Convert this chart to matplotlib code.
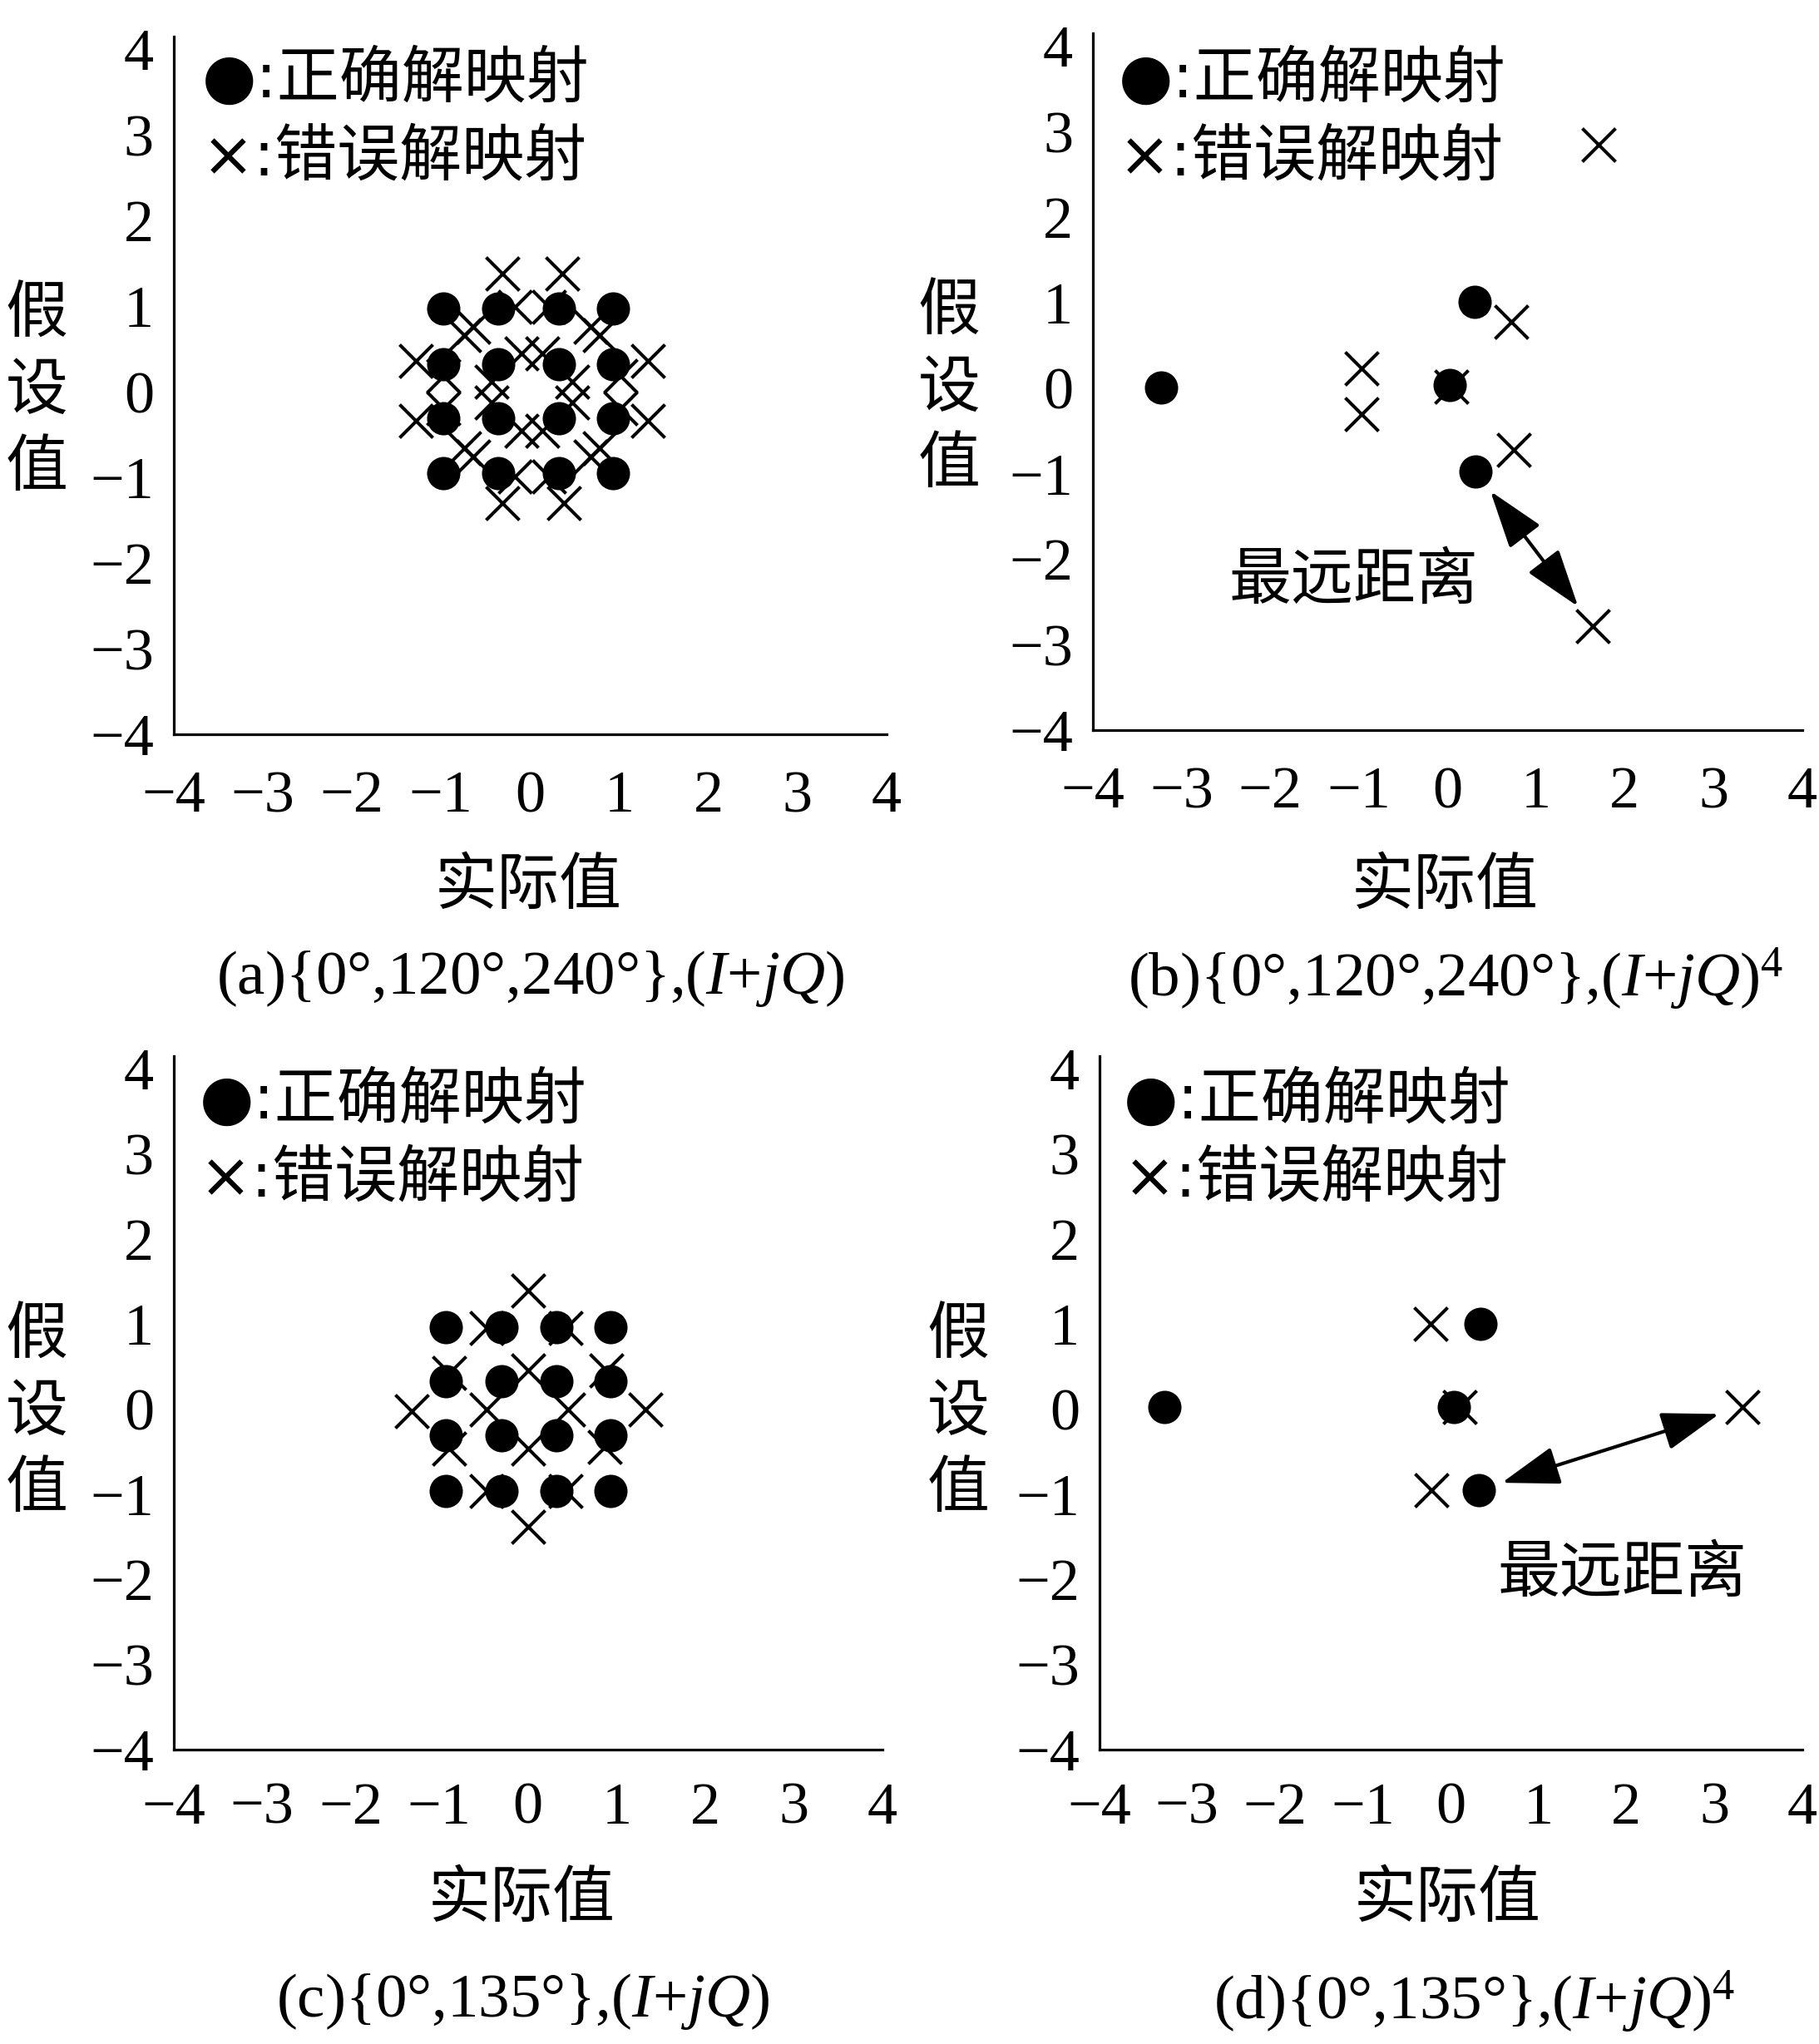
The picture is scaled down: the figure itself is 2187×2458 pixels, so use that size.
import matplotlib
matplotlib.use("Agg")
import matplotlib.pyplot as plt
from matplotlib.markers import MarkerStyle

plt.rcParams['mathtext.fontset'] = 'custom'
plt.rcParams['mathtext.rm'] = 'Liberation Serif'
plt.rcParams['mathtext.it'] = 'Liberation Serif:italic'
plt.rcParams['axes.unicode_minus'] = True

# ---------------- data ----------------
# (a) {0,120,240}, (I+jQ)
a_ok_x = [-0.97, -0.36, 0.32, 0.93, -0.97, -0.36, 0.32, 0.93,
          -0.97, -0.36, 0.32, 0.93, -0.97, -0.36, 0.32, 0.93]
a_ok_y = [0.97, 0.97, 0.97, 0.97, 0.32, 0.32, 0.32, 0.32,
          -0.31, -0.31, -0.31, -0.31, -0.95, -0.95, -0.95, -0.95]
a_err_x = [-1.28, -1.28, 1.32, 1.32, -0.31, 0.36, -0.31, 0.38,
           -0.74, -0.74, 0.78, 0.78, -0.64, 0.68, -0.64, 0.68,
           -0.17, 0.21, -0.17, 0.21, -0.97, -0.97, 1.01, 1.01,
           -0.43, -0.43, 0.47, 0.47, 0.14, -0.10, 0.14, -0.10]
a_err_y = [0.36, -0.34, 0.36, -0.34, 1.38, 1.38, -1.30, -1.30,
           0.66, -0.66, 0.66, -0.66, 0.76, 0.76, -0.76, -0.76,
           0.99, 0.99, -0.99, -0.99, 0.19, -0.19, 0.19, -0.19,
           0.12, -0.12, 0.12, -0.12, 0.45, 0.45, -0.45, -0.45]

# (b) {0,120,240}, (I+jQ)^4
b_ok_x = [-3.23, 0.31, 0.03, 0.32]
b_ok_y = [0.01, 1.01, 0.04, -0.98]
b_err_x = [1.71, 0.72, -0.97, -0.97, 0.75, 1.64, 0.05]
b_err_y = [2.85, 0.78, 0.23, -0.30, -0.72, -2.78, 0.02]

# (c) {0,135}, (I+jQ)
c_ok_x = [-0.93, -0.30, 0.32, 0.93, -0.93, -0.30, 0.32, 0.93,
          -0.93, -0.30, 0.32, 0.93, -0.93, -0.30, 0.32, 0.93]
c_ok_y = [0.96, 0.96, 0.96, 0.96, 0.33, 0.33, 0.33, 0.33,
          -0.31, -0.31, -0.31, -0.31, -0.96, -0.96, -0.96, -0.96]
c_err_x = [0.00, 0.00, -1.31, 1.33, -0.47, 0.42, -0.89, 0.88,
           0.00, -0.47, 0.45, 0.00, -0.89, 0.87, -0.47, 0.42]
c_err_y = [1.39, -1.38, -0.02, 0.00, 0.95, 0.95, 0.43, 0.46,
           0.46, 0.00, 0.00, -0.46, -0.46, -0.44, -0.96, -0.96]

# (d) {0,135}, (I+jQ)^4
d_ok_x = [-3.26, 0.04, 0.34, 0.32]
d_ok_y = [0.03, 0.03, 1.00, -0.95]
d_err_x = [-0.23, -0.22, 0.10, 3.32]
d_err_y = [1.00, -0.95, 0.03, 0.03]

# far-distance arrows: (correct point, wrong point)
b_arrow = [(0.32, -0.98), (1.64, -2.78)]
d_arrow = [(0.32, -0.95), (3.32, 0.03)]

ticks = [-4, -3, -2, -1, 0, 1, 2, 3, 4]
captions = ["(a){0°,120°,240°},($I$+$jQ$)",
            "(b){0°,120°,240°},($I$+$jQ$)$^4$",
            "(c){0°,135°},($I$+$jQ$)",
            "(d){0°,135°},($I$+$jQ$)$^4$"]
legend_ok = "●:正确解映射"
legend_err = "×:错误解映射"
xlabel = "实际值"
ylabel = "假\n设\n值"
far_label = "最远距离"

# ---------------- layout ----------------
W, H = 2187, 2458
fig = plt.figure(figsize=(W / 100, H / 100), dpi=100)
fig.patch.set_facecolor('white')

def fx(x):
    return x / W

def fy(y):
    return 1 - y / H

def make_axes(left, right, top, bottom):
    return fig.add_axes([fx(left), fy(bottom), fx(right) - fx(left), fy(top) - fy(bottom)])

panels = [
    dict(rect=(208.5, 1066, 44, 883), ok=(a_ok_x, a_ok_y), err=(a_err_x, a_err_y),
         leg=(243, 96), ylab=(44, 470), xlab=(635, 1065), cap=(637, 1177), xpad=31),
    dict(rect=(1313.7, 2166.6, 40, 878), ok=(b_ok_x, b_ok_y), err=(b_err_x, b_err_y),
         leg=(1345, 96), ylab=(1141, 467), xlab=(1737, 1065), cap=(1750, 1177), xpad=31),
    dict(rect=(208.5, 1061, 1270, 2104), ok=(c_ok_x, c_ok_y), err=(c_err_x, c_err_y),
         leg=(240, 1324), ylab=(44, 1698), xlab=(627, 2283), cap=(629, 2407), xpad=28),
    dict(rect=(1321.5, 2166.6, 1270, 2104), ok=(d_ok_x, d_ok_y), err=(d_err_x, d_err_y),
         leg=(1351, 1324), ylab=(1152, 1698), xlab=(1740, 2283), cap=(1773, 2407), xpad=28),
]

CJK = ['Noto Sans CJK SC', 'DejaVu Sans']
LEG = ['DejaVu Sans', 'Noto Sans CJK SC']
xmark = MarkerStyle('x', capstyle='round')

axes = []
for i, p in enumerate(panels):
    ax = make_axes(*p['rect'])
    axes.append(ax)
    ax.set_xlim(-4, 4)
    ax.set_ylim(-4, 4.15)
    for s in ['top', 'right']:
        ax.spines[s].set_visible(False)
    for s in ['left', 'bottom']:
        ax.spines[s].set_linewidth(2.3)
    ax.set_xticks(ticks)
    ax.set_yticks(ticks)
    ax.tick_params(axis='both', length=0, labelsize=52)
    ax.tick_params(axis='x', pad=p['xpad'])
    ax.tick_params(axis='y', pad=17)
    for lab in ax.get_xticklabels() + ax.get_yticklabels():
        lab.set_fontfamily('Liberation Serif')
    ax.set_facecolor('none')

    ax.scatter(p['ok'][0], p['ok'][1], s=830, c='black', marker='o',
               linewidths=0, zorder=3)
    ax.scatter(p['err'][0], p['err'][1], s=830, c='black', marker=xmark,
               linewidths=2.9, zorder=4)

    lx, ly = p['leg']
    fig.text(fx(lx), fy(ly), legend_ok, fontsize=54, family=LEG,
             ha='left', va='center')
    fig.text(fx(lx), fy(ly + 94), legend_err, fontsize=54, family=LEG,
             ha='left', va='center')
    fig.text(fx(p['ylab'][0]), fy(p['ylab'][1]), ylabel, fontsize=54, family=CJK,
             ha='center', va='center', linespacing=1.25, multialignment='center')
    fig.text(fx(p['xlab'][0]), fy(p['xlab'][1]), xlabel, fontsize=54, family=CJK,
             ha='center', va='center')
    fig.text(fx(p['cap'][0]), fy(p['cap'][1]), captions[i], fontsize=54,
             family='Liberation Serif', ha='center', va='center')

arrow_props = dict(arrowstyle='<|-|>,head_length=2.4,head_width=0.8',
                   mutation_scale=18, lw=3.0, color='black',
                   shrinkA=21, shrinkB=21)
axes[1].annotate('', xy=b_arrow[1], xytext=b_arrow[0], arrowprops=arrow_props, zorder=5)
axes[3].annotate('', xy=d_arrow[1], xytext=d_arrow[0], arrowprops=arrow_props, zorder=5)

axes[1].text(-1.06, -2.25, far_label, fontsize=54, family=CJK, ha='center', va='center')
axes[3].text(1.95, -1.93, far_label, fontsize=54, family=CJK, ha='center', va='center')

fig.savefig('out.png', dpi=100, facecolor='white')
